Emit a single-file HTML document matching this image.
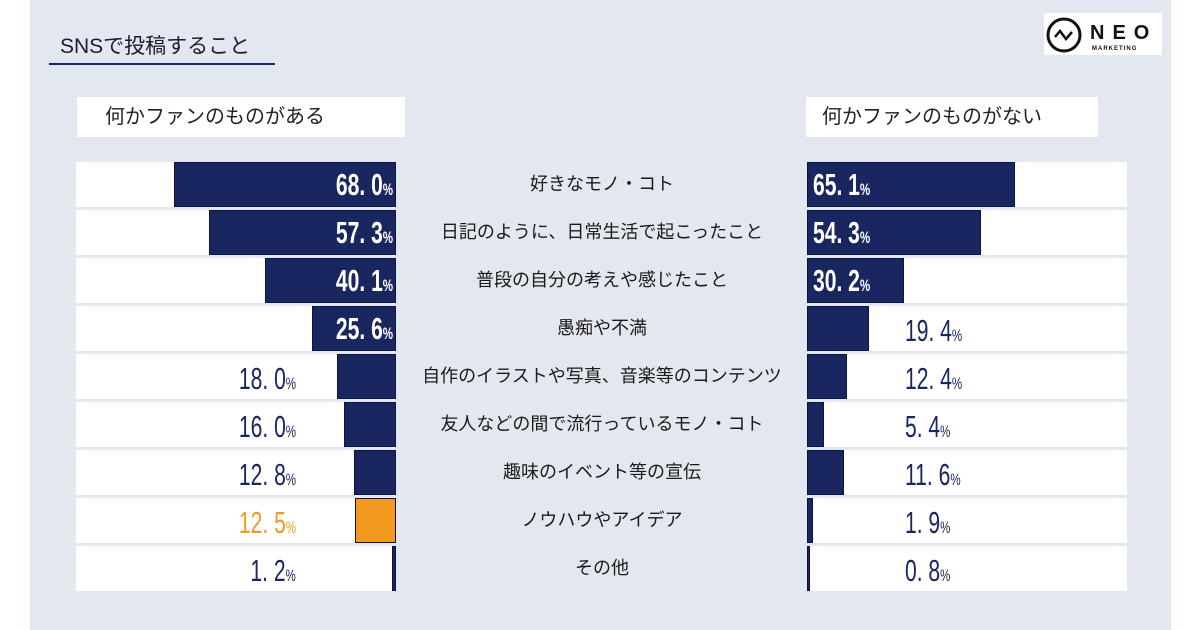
<!DOCTYPE html>
<html><head><meta charset="utf-8">
<style>
body{margin:0;width:1200px;height:630px;background:#fff;position:relative;overflow:hidden;font-family:"Liberation Sans","Noto Sans CJK JP",sans-serif;}
#panel{position:absolute;left:30px;top:0;width:1141px;height:630px;background:#e3e7ef;}
.abs{position:absolute;}
.num{position:absolute;font-family:"Liberation Sans","Noto Sans CJK JP",sans-serif;font-weight:bold;font-size:31px;line-height:45px;transform:scaleX(0.68);white-space:nowrap;}
.num small{font-size:17px;}
.cat{position:absolute;left:400px;width:404px;text-align:center;font-size:18px;color:#1a1a1a;line-height:45px;white-space:nowrap;}
</style></head><body>
<div id="panel"></div>
<div class="abs" style="left:60px;top:30px;font-size:21px;color:#1c1c2a;">SNSで投稿すること</div>
<div class="abs" style="left:49px;top:63px;width:226px;height:2px;background:#1a2660;"></div>
<div class="abs" style="left:1044px;top:13px;width:118px;height:42px;background:#fff;">
 <svg width="118" height="42"><circle cx="20" cy="22" r="16" fill="none" stroke="#111" stroke-width="3"/><path d="M11 24 L16 18 L22 26 L28 19" fill="none" stroke="#111" stroke-width="2.5"/>
 <text x="46" y="26" font-family="Liberation Sans" font-weight="bold" font-size="20" letter-spacing="8" fill="#111">NEO</text>
 <text x="48" y="37" font-family="Liberation Sans" font-weight="bold" font-size="6" letter-spacing="1" fill="#111">MARKETING</text></svg>
</div>
<div class="abs" style="left:77px;top:97px;width:328px;height:40px;background:#fff;font-size:20px;line-height:40px;padding-left:28px;box-sizing:border-box;color:#222;">何かファンのものがある</div>
<div class="abs" style="left:806px;top:97px;width:292px;height:40px;background:#fff;font-size:20px;line-height:40px;padding-left:16px;box-sizing:border-box;color:#222;">何かファンのものがない</div>
<div id="chart"></div>
<script>
const categories=["好きなモノ・コト","日記のように、日常生活で起こったこと","普段の自分の考えや感じたこと","愚痴や不満","自作のイラストや写真、音楽等のコンテンツ","友人などの間で流行っているモノ・コト","趣味のイベント等の宣伝","ノウハウやアイデア","その他"];
const fanValues=[68.0,57.3,40.1,25.6,18.0,16.0,12.8,12.5,1.2];
const noFanValues=[65.1,54.3,30.2,19.4,12.4,5.4,11.6,1.9,0.8];
const highlightIndex=7;
const chart=document.getElementById('chart');
function rowTop(i){return 162+i*48;}
function leftW(v){return v*3.27;}
function rightW(v){return v*3.2;}
function fmt(v){return v.toFixed(1).replace('.', '. ');}
categories.forEach((c,i)=>{
  const t=rowTop(i);
  const navy='#1a2660', hi=i===highlightIndex, col=hi?'#f39a1e':navy;
  const lb=document.createElement('div');lb.className='abs';
  
  
  lb.style.cssText=`left:76px;top:${t}px;width:320px;height:45px;background:#fff;`;chart.appendChild(lb);
  const w=leftW(fanValues[i]);
  const bar=document.createElement('div');bar.className='abs';
  
  
  bar.style.cssText=`left:${396-w}px;top:${t}px;width:${w}px;height:45px;background:${col};box-sizing:border-box;border:1px solid #0b1440;`;chart.appendChild(bar);
  const ln=document.createElement('div');ln.className='num';
  
  
  ln.innerHTML=fmt(fanValues[i])+'<small>%</small>';
  if(w>70){ln.style.cssText+=`color:#fff;right:${1200-393}px;top:${t}px;transform-origin:right center;`;}
  else{ln.style.cssText+=`color:${hi?'#f39a1e':navy};right:${1200-296}px;top:${t+2}px;transform-origin:right center;font-weight:normal;`;}
  chart.appendChild(ln);
  const cl=document.createElement('div');cl.className='cat';
  
  
  cl.style.top=t+'px';cl.textContent=c;chart.appendChild(cl);
  const rb=document.createElement('div');rb.className='abs';
  
  
  rb.style.cssText=`left:807px;top:${t}px;width:320px;height:45px;background:#fff;`;chart.appendChild(rb);
  const rw=rightW(noFanValues[i]);
  const rbar=document.createElement('div');rbar.className='abs';
  
  
  rbar.style.cssText=`left:807px;top:${t}px;width:${rw}px;height:45px;background:${navy};box-sizing:border-box;border:1px solid #0b1440;`;chart.appendChild(rbar);
  const rn=document.createElement('div');rn.className='num';
  
  
  rn.innerHTML=fmt(noFanValues[i])+'<small>%</small>';
  if(rw>70){rn.style.cssText+=`color:#fff;left:813px;top:${t}px;transform-origin:left center;`;}
  else{rn.style.cssText+=`color:${navy};left:905px;top:${t+2}px;transform-origin:left center;font-weight:normal;`;}
  chart.appendChild(rn);
});
</script>
</body></html>
